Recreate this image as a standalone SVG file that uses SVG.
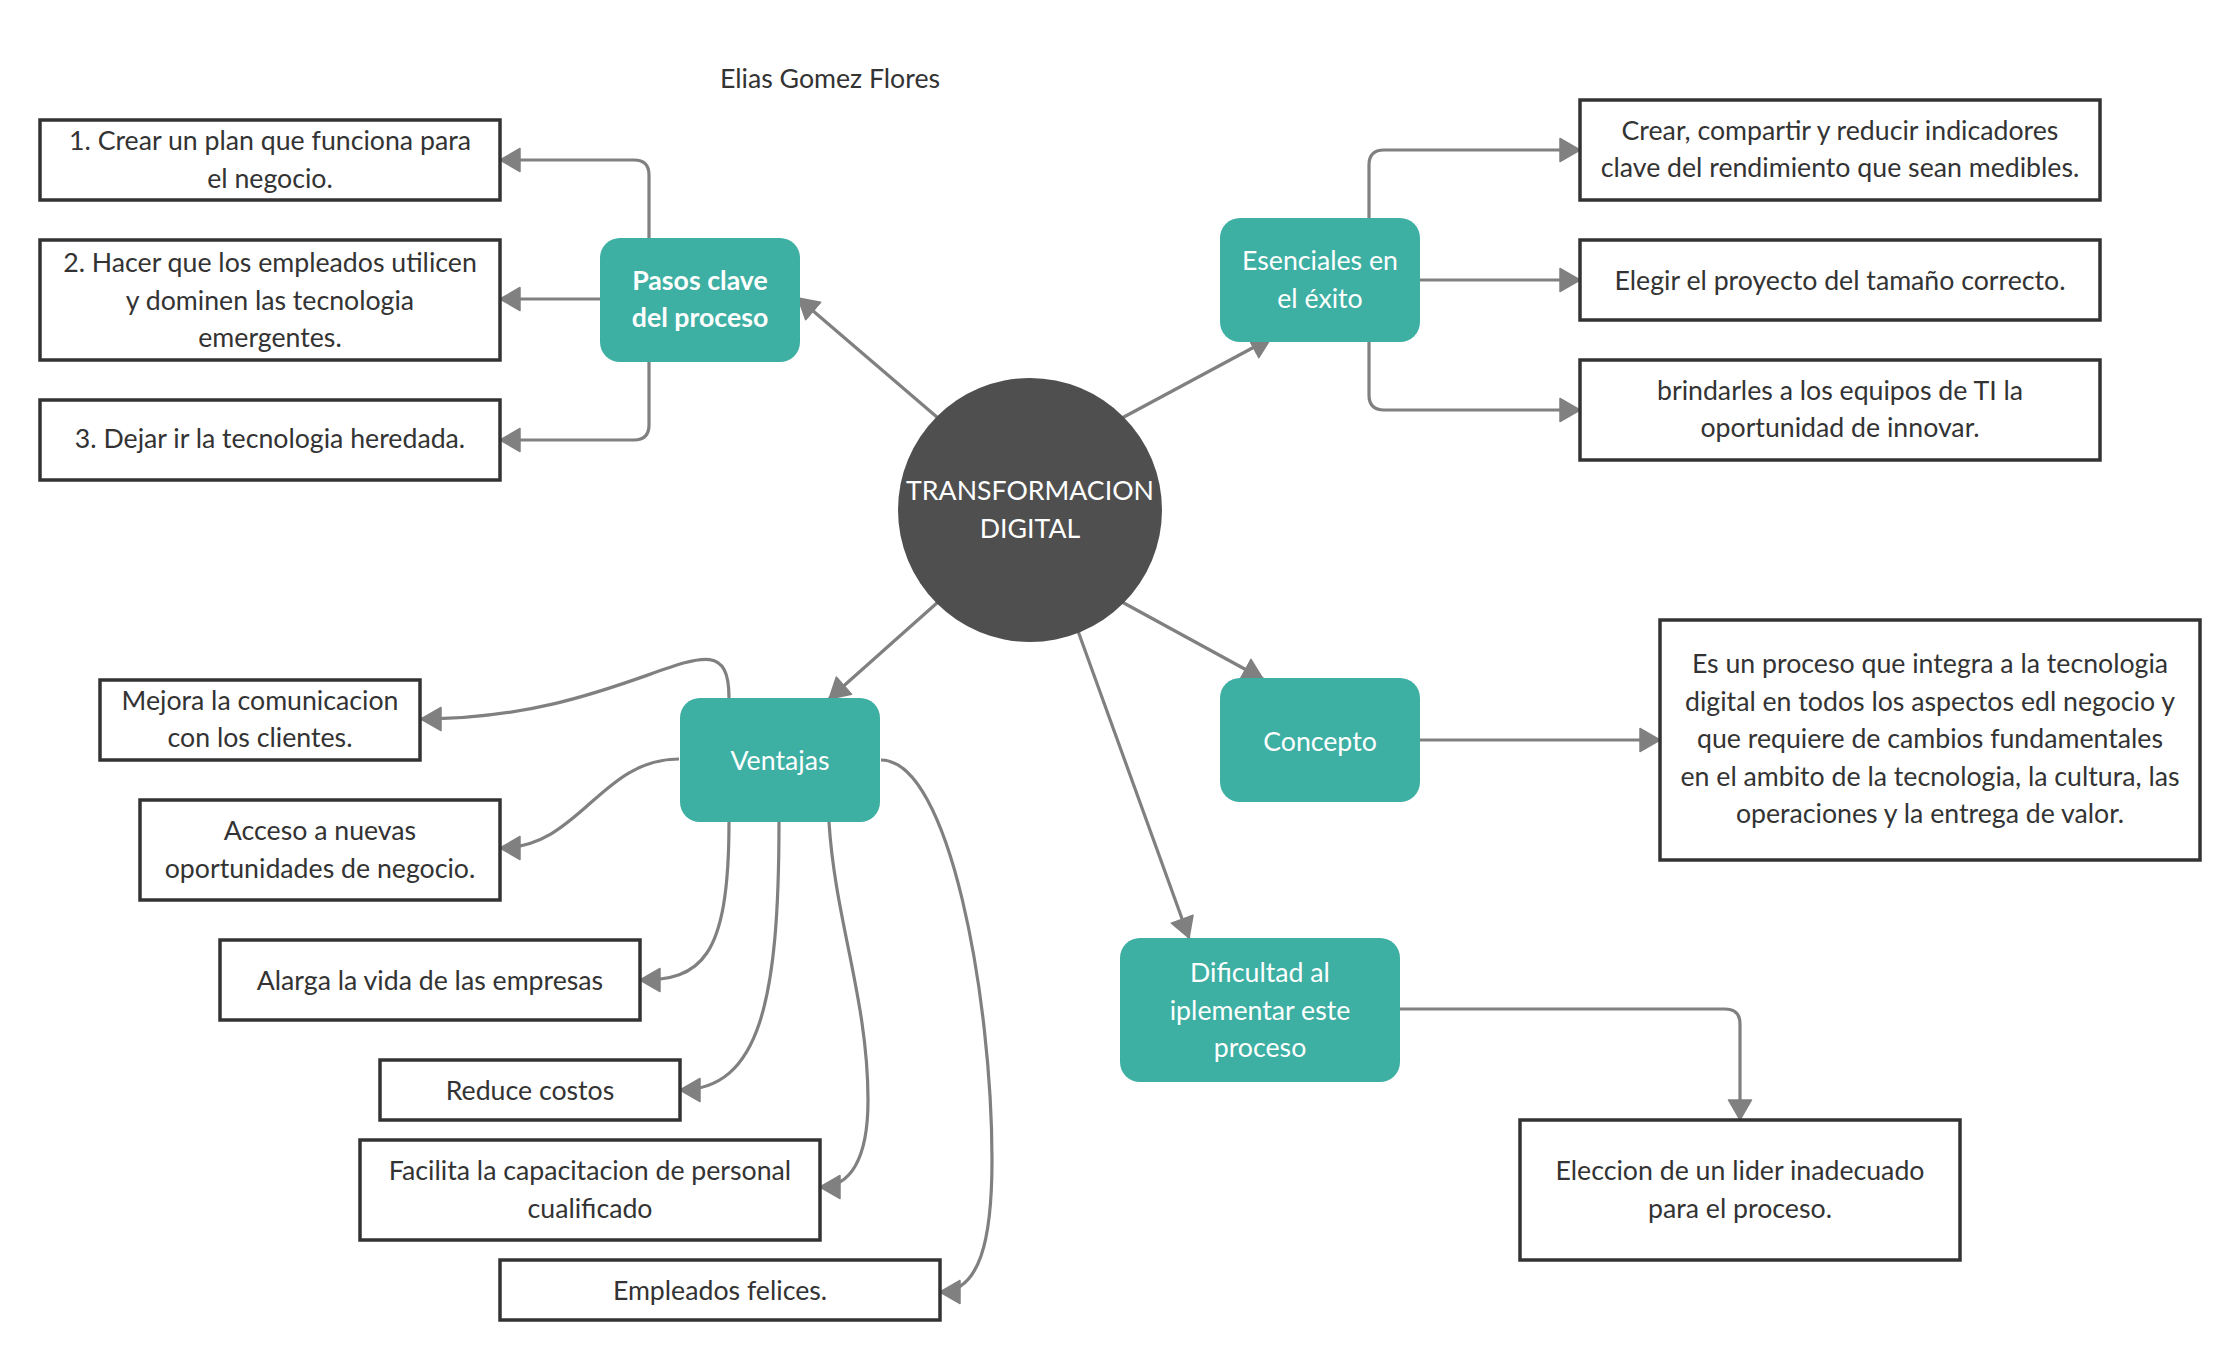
<svg xmlns="http://www.w3.org/2000/svg" width="2240" height="1360" viewBox="0 0 2240 1360">
  <style>
    .box { fill: #ffffff; stroke: #333333; stroke-width: 3.5; }
    .node { fill: #3dafa3; }
    .hub { fill: #4f4f4f; }
    .t { font-family: Lato, "Open Sans", "Liberation Sans", sans-serif; font-size: 26.7px; fill: #333333; text-anchor: middle; }
    .nt { font-family: Lato, "Open Sans", "Liberation Sans", sans-serif; font-size: 26.7px; fill: #ffffff; text-anchor: middle; }
    .b { font-weight: bold; }
    .link { fill: none; stroke: #808080; stroke-width: 3.2; marker-end: url(#arrow); }
  </style>
  <defs>
    <marker id="arrow" markerUnits="userSpaceOnUse" viewBox="0 0 22 26" refX="21" refY="13" markerWidth="22" markerHeight="26" orient="auto">
      <path d="M1,1.5 L21,13 L1,24.5 Z" fill="#808080" stroke="#808080" stroke-width="1.5" stroke-linejoin="round"/>
    </marker>
  </defs>
  <rect width="2240" height="1360" fill="#ffffff"/>

  <text class="t" x="830" y="88">Elias Gomez Flores</text>

  <!-- connectors -->
  <g id="connectors">
    <!-- hub to branches -->
    <path class="link" d="M938,418 L798,298"/>
    <path class="link" d="M1122,418 L1271,338"/>
    <path class="link" d="M1122,602 L1263,679"/>
    <path class="link" d="M938,602 L829,699"/>
    <path class="link" d="M1078,631 L1189,938"/>
    <!-- Pasos clave -->
    <path class="link" d="M649,238 V175 Q649,160 634,160 H500"/>
    <path class="link" d="M600,299 H500"/>
    <path class="link" d="M649,362 V425 Q649,440 634,440 H500"/>
    <!-- Esenciales -->
    <path class="link" d="M1369,218 V165 Q1369,150 1384,150 H1580"/>
    <path class="link" d="M1420,280 H1580"/>
    <path class="link" d="M1369,342 V395 Q1369,410 1384,410 H1580"/>
    <!-- Concepto -->
    <path class="link" d="M1420,740 H1660"/>
    <!-- Dificultad -->
    <path class="link" d="M1400,1009 H1725 Q1740,1009 1740,1024 V1120"/>
    <!-- Ventajas -->
    <path class="link" d="M729,698 C729,600 640,719 421,719"/>
    <path class="link" d="M679,759 C600,759 580,848 500,848"/>
    <path class="link" d="M729,822 C729,960 700,980 640,980"/>
    <path class="link" d="M779,822 C779,1000 760,1090 680,1090"/>
    <path class="link" d="M829,822 C835,920 868,1000 868,1100 C868,1160 850,1187 820,1187"/>
    <path class="link" d="M881,760 C950,760 992,1000 992,1160 C992,1240 980,1292 940,1292"/>
  </g>

  <!-- central topic -->
  <g id="hub">
    <circle class="hub" cx="1030" cy="510" r="132"/>
    <text class="nt" x="1030" y="500">TRANSFORMACION</text>
    <text class="nt" x="1030" y="538">DIGITAL</text>
  </g>

  <!-- branch nodes -->
  <g id="pasos">
    <rect class="node" x="600" y="238" width="200" height="124" rx="20"/>
    <text class="nt b" x="700" y="290">Pasos clave</text>
    <text class="nt b" x="700" y="327">del proceso</text>
  </g>
  <g id="esenciales">
    <rect class="node" x="1220" y="218" width="200" height="124" rx="20"/>
    <text class="nt" x="1320" y="270">Esenciales en</text>
    <text class="nt" x="1320" y="308">el éxito</text>
  </g>
  <g id="concepto">
    <rect class="node" x="1220" y="678" width="200" height="124" rx="20"/>
    <text class="nt" x="1320" y="751">Concepto</text>
  </g>
  <g id="ventajas">
    <rect class="node" x="680" y="698" width="200" height="124" rx="20"/>
    <text class="nt" x="780" y="770">Ventajas</text>
  </g>
  <g id="dificultad">
    <rect class="node" x="1120" y="938" width="280" height="144" rx="20"/>
    <text class="nt" x="1260" y="982">Dificultad al</text>
    <text class="nt" x="1260" y="1020">iplementar este</text>
    <text class="nt" x="1260" y="1057">proceso</text>
  </g>

  <!-- Pasos clave leaves -->
  <g id="paso1">
    <rect class="box" x="40" y="120" width="460" height="80"/>
    <text class="t" x="270" y="150">1. Crear un plan que funciona para</text>
    <text class="t" x="270" y="188">el negocio.</text>
  </g>
  <g id="paso2">
    <rect class="box" x="40" y="240" width="460" height="120"/>
    <text class="t" x="270" y="272">2. Hacer que los empleados utilicen</text>
    <text class="t" x="270" y="310">y dominen las tecnologia</text>
    <text class="t" x="270" y="347">emergentes.</text>
  </g>
  <g id="paso3">
    <rect class="box" x="40" y="400" width="460" height="80"/>
    <text class="t" x="270" y="448">3. Dejar ir la tecnologia heredada.</text>
  </g>

  <!-- Esenciales leaves -->
  <g id="esencial1">
    <rect class="box" x="1580" y="100" width="520" height="100"/>
    <text class="t" x="1840" y="140">Crear, compartir y reducir indicadores</text>
    <text class="t" x="1840" y="177">clave del rendimiento que sean medibles.</text>
  </g>
  <g id="esencial2">
    <rect class="box" x="1580" y="240" width="520" height="80"/>
    <text class="t" x="1840" y="290">Elegir el proyecto del tamaño correcto.</text>
  </g>
  <g id="esencial3">
    <rect class="box" x="1580" y="360" width="520" height="100"/>
    <text class="t" x="1840" y="400">brindarles a los equipos de TI la</text>
    <text class="t" x="1840" y="437">oportunidad de innovar.</text>
  </g>

  <!-- Concepto leaf -->
  <g id="definicion">
    <rect class="box" x="1660" y="620" width="540" height="240"/>
    <text class="t" x="1930" y="673">Es un proceso que integra a la tecnologia</text>
    <text class="t" x="1930" y="711">digital en todos los aspectos edl negocio y</text>
    <text class="t" x="1930" y="748">que requiere de cambios fundamentales</text>
    <text class="t" x="1930" y="786">en el ambito de la tecnologia, la cultura, las</text>
    <text class="t" x="1930" y="823">operaciones y la entrega de valor.</text>
  </g>

  <!-- Dificultad leaf -->
  <g id="lider">
    <rect class="box" x="1520" y="1120" width="440" height="140"/>
    <text class="t" x="1740" y="1180">Eleccion de un lider inadecuado</text>
    <text class="t" x="1740" y="1218">para el proceso.</text>
  </g>

  <!-- Ventajas leaves -->
  <g id="ventaja1">
    <rect class="box" x="100" y="680" width="320" height="80"/>
    <text class="t" x="260" y="710">Mejora la comunicacion</text>
    <text class="t" x="260" y="747">con los clientes.</text>
  </g>
  <g id="ventaja2">
    <rect class="box" x="140" y="800" width="360" height="100"/>
    <text class="t" x="320" y="840">Acceso a nuevas</text>
    <text class="t" x="320" y="878">oportunidades de negocio.</text>
  </g>
  <g id="ventaja3">
    <rect class="box" x="220" y="940" width="420" height="80"/>
    <text class="t" x="430" y="990">Alarga la vida de las empresas</text>
  </g>
  <g id="ventaja4">
    <rect class="box" x="380" y="1060" width="300" height="60"/>
    <text class="t" x="530" y="1100">Reduce costos</text>
  </g>
  <g id="ventaja5">
    <rect class="box" x="360" y="1140" width="460" height="100"/>
    <text class="t" x="590" y="1180">Facilita la capacitacion de personal</text>
    <text class="t" x="590" y="1218">cualificado</text>
  </g>
  <g id="ventaja6">
    <rect class="box" x="500" y="1260" width="440" height="60"/>
    <text class="t" x="720" y="1300">Empleados felices.</text>
  </g>
</svg>
